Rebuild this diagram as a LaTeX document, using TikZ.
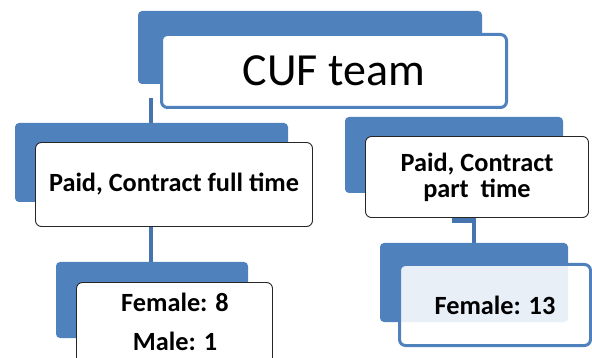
\documentclass[tikz,border=0pt]{standalone}
\usepackage{fontspec}
\setmainfont{Carlito}
\definecolor{ob}{HTML}{4F81BD}
\definecolor{cb}{HTML}{4674AE}
\begin{document}
\begin{tikzpicture}[x=1pt,y=-1pt,
  back/.style={fill=ob, rounded corners=4pt, inner sep=0pt, outer sep=0pt, anchor=north west},
  bluebox/.style={fill=white, draw=ob, line width=3pt, rounded corners=6pt, inner sep=0pt, outer sep=0pt, anchor=north west},
  thinbox/.style={fill=white, draw=black!85, line width=0.9pt, rounded corners=6pt, inner sep=0pt, outer sep=0pt, anchor=north west},
  lab/.style={font=\fontsize{26.3}{26}\selectfont\bfseries, align=center, text=black},
  conn/.style={draw=cb, line width=4.5pt}]
\useasboundingbox (0,0) rectangle (592,358);
\clip (0,0) rectangle (592,358);
% connectors
\coordinate (c1) at (151,98);
\coordinate (c2) at (151,262);
\coordinate (c3) at (452,220.5);
\coordinate (c4) at (474,243);
\draw[conn] (c1) -- (c2);
\draw[conn] (c3) -| (c4);
% top
\node[back, minimum width=344pt, minimum height=73pt] (topb) at (138,11) {};
\node[bluebox, minimum width=345pt, minimum height=73pt, font=\fontsize{46}{46}\selectfont] (topw) at (161.5,34.5) {CUF team};
% left mid
\node[back, minimum width=273pt, minimum height=79pt] (lmb) at (15,123) {};
\node[thinbox, lab, minimum width=277pt, minimum height=84pt] (lmw) at (35.5,142.5) {Paid, Contract full time};
% right mid
\node[back, minimum width=218pt, minimum height=76pt] (rmb) at (345,117) {};
\node[thinbox, lab, minimum width=223pt, minimum height=81pt] (rmw) at (365.5,136.5) {Paid, Contract\\part\ \ time};
% bottom left
\node[back, minimum width=192pt, minimum height=76pt] (lbb) at (56,262) {};
\node[thinbox, minimum width=196pt, minimum height=100pt] (lbw) at (76.5,282.5) {};
\node[lab, font=\fontsize{26.3}{39}\selectfont\bfseries, anchor=base, inner sep=0pt] (lbt) at (175,350) {Female: 8\\Male: 1};
% bottom right
\node[back, minimum width=188pt, minimum height=79pt] (rbb) at (380,243) {};
\node[bluebox, lab, fill opacity=0.875, text opacity=1, minimum width=191pt, minimum height=81pt] (rbw) at (399.5,264.5) {Female: 13};
\end{tikzpicture}
\end{document}
